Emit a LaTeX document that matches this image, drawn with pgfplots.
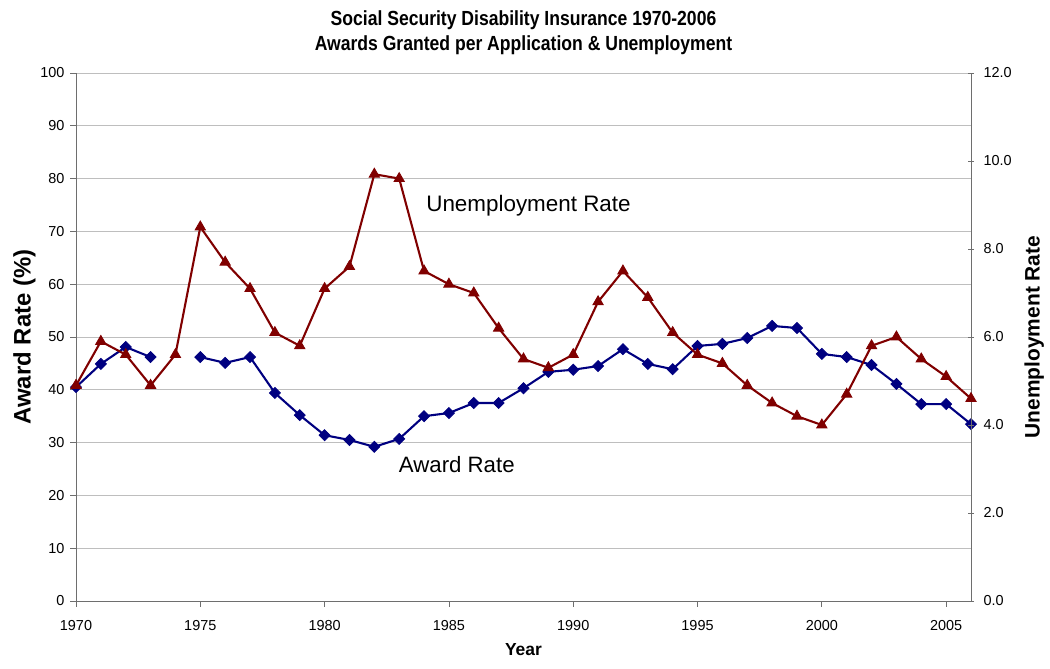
\documentclass[border=0pt]{standalone}
\usepackage{pgfplots}
\pgfplotsset{compat=1.18}
\usepackage{fontspec}
\setmainfont{Liberation Sans}
\newfontfamily\titlefont[FakeStretch=0.86]{Liberation Sans}

\definecolor{awardblue}{RGB}{0,0,128}
\definecolor{unempred}{RGB}{128,0,0}
\definecolor{axisgray}{RGB}{110,110,110}
\definecolor{gridgray}{RGB}{190,190,190}

\pgfplotstableread{
year award
1970 40.5
1971 44.9
1972 48.1
1973 46.2
1974 nan
1975 46.2
1976 45.1
1977 46.2
1978 39.4
1979 35.2
1980 31.4
1981 30.5
1982 29.2
1983 30.7
1984 35.0
1985 35.6
1986 37.5
1987 37.5
1988 40.3
1989 43.4
1990 43.8
1991 44.5
1992 47.7
1993 44.9
1994 43.9
1995 48.3
1996 48.7
1997 49.8
1998 52.1
1999 51.7
2000 46.8
2001 46.2
2002 44.7
2003 41.1
2004 37.3
2005 37.3
2006 33.5
}\awardtable

\pgfplotstableread{
year unemp
1970 4.9
1971 5.9
1972 5.6
1973 4.9
1974 5.6
1975 8.5
1976 7.7
1977 7.1
1978 6.1
1979 5.8
1980 7.1
1981 7.6
1982 9.7
1983 9.6
1984 7.5
1985 7.2
1986 7.0
1987 6.2
1988 5.5
1989 5.3
1990 5.6
1991 6.8
1992 7.5
1993 6.9
1994 6.1
1995 5.6
1996 5.4
1997 4.9
1998 4.5
1999 4.2
2000 4.0
2001 4.7
2002 5.8
2003 6.0
2004 5.5
2005 5.1
2006 4.6
}\unemptable

\begin{document}
\begin{tikzpicture}
    \pgfplotsset{
        every axis/.append style={
            scale only axis,width=895bp,height=528bp,
            xmin=1970,xmax=2006,
            tick label style={font=\fontsize{14.5}{16}\selectfont},
            /pgf/number format/assume math mode=true,
            axis line style={axisgray,line width=1pt},
            major tick style={axisgray,line width=0.8pt},
            major tick length=6bp,
        },
    }
    \path[use as bounding box] (-76bp,-68bp) rectangle (974bp,601bp);
    \begin{axis}[
        at={(0,0)},anchor=south west,
        axis x line*=bottom,axis y line*=left,
        tick align=outside,
        ymin=0,ymax=100,ytick={0,10,...,100},
        xtick={1970,1975,...,2005},
        x tick label style={/pgf/number format/1000 sep={},yshift=-10bp},
        y tick label style={xshift=-2bp},
        ymajorgrids,
        major grid style={gridgray,line width=0.9pt},
        unbounded coords=jump,
        ylabel={\bfseries Award Rate (\%)},
        ylabel style={font=\fontsize{24}{26}\selectfont,yshift=-2bp},
        xlabel={\bfseries Year},
        xlabel style={font=\fontsize{17.5}{19}\selectfont,yshift=-6bp},
        clip=false,
    ]
        \addplot[awardblue,line width=2.1pt,mark=square*,
            mark options={rotate=45,mark size=3.9bp,fill=awardblue,line width=0.8pt}]
            table[x=year,y=award] {\awardtable};
        \node[anchor=west,font=\fontsize{22.3}{24}\selectfont] at (axis cs:1982.85,25.8) {Award Rate};
        \node[anchor=west,font=\fontsize{22.5}{24}\selectfont] at (axis cs:1983.95,74.8) {Unemployment Rate};
        \node[font=\titlefont\bfseries\fontsize{20.5}{25}\selectfont,align=center] at (axis cs:1988,107.6)
            {Social Security Disability Insurance 1970-2006\\Awards Granted per Application \& Unemployment};
    \end{axis}
    \begin{axis}[
        at={(0,0)},anchor=south west,
        axis x line=none,axis y line*=right,
        tick align=center,
        ymin=0,ymax=12,ytick={0,2,...,12},
        yticklabel style={xshift=6bp,/pgf/number format/.cd,fixed,fixed zerofill,precision=1},
        ylabel={\bfseries Unemployment Rate},
        ylabel style={font=\fontsize{21}{23}\selectfont,yshift=-6bp},
    ]
        \addplot[unempred,line width=2.1pt,mark=triangle*,
            mark options={mark size=6bp,fill=unempred,line width=0.8pt}]
            table[x=year,y=unemp] {\unemptable};
    \end{axis}
\end{tikzpicture}
\end{document}
